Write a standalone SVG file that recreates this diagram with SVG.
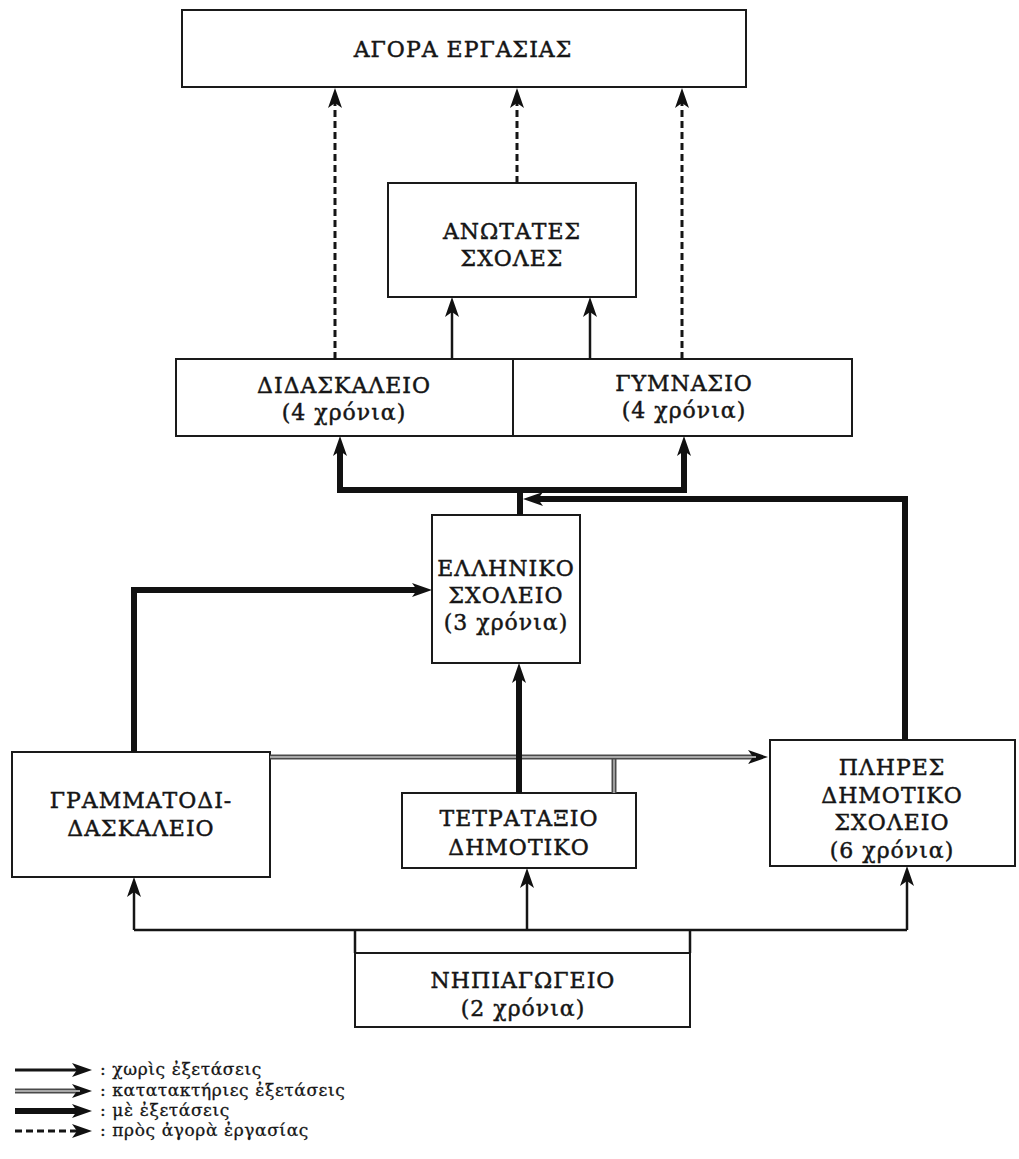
<svg xmlns="http://www.w3.org/2000/svg" width="1019" height="1159" viewBox="0 0 1019 1159">
<style>
.box{fill:#fff;stroke:#1a1a1a;stroke-width:2}
.t{font-family:"DejaVu Serif","Liberation Serif",serif;font-size:22px;letter-spacing:1px;fill:#151515;stroke:#151515;stroke-width:0.45;text-anchor:middle}
.lg{font-family:"DejaVu Serif","Liberation Serif",serif;font-size:17px;letter-spacing:0.6px;fill:#151515;stroke:#151515;stroke-width:0.3}
.thin{fill:none;stroke:#151515;stroke-width:2.5}
.thick{fill:none;stroke:#111;stroke-width:6}
.dash{fill:none;stroke:#151515;stroke-width:3;stroke-dasharray:7 4}
.hatch{fill:none;stroke:#4a4a4a;stroke-width:5}
.hatchin{fill:none;stroke:#a8a8a8;stroke-width:1.8}
</style>
<defs>
<marker id="ah" viewBox="0 0 20 14" refX="10" refY="7" markerWidth="20" markerHeight="14" markerUnits="userSpaceOnUse" orient="auto">
<path d="M0,0 L20,7 L0,14 L5,7 Z" fill="#111"/>
</marker>
</defs>
<rect width="1019" height="1159" fill="#fff"/>

<g id="agora">
<rect class="box" x="182" y="10" width="564" height="77"/>
<text class="t" x="463" y="57">ΑΓΟΡΑ ΕΡΓΑΣΙΑΣ</text>
</g>
<g id="anotates">
<rect class="box" x="388" y="183" width="248" height="114"/>
<text class="t" x="512" y="239">ΑΝΩΤΑΤΕΣ</text>
<text class="t" x="512" y="266">ΣΧΟΛΕΣ</text>
</g>
<g id="didaskaleio">
<rect class="box" x="176" y="359" width="337" height="77"/>
<text class="t" x="344" y="393">ΔΙΔΑΣΚΑΛΕΙΟ</text>
<text class="t" x="344" y="420">(4 χρόνια)</text>
</g>
<g id="gymnasio">
<rect class="box" x="513" y="359" width="339" height="77"/>
<text class="t" x="684" y="391">ΓΥΜΝΑΣΙΟ</text>
<text class="t" x="684" y="418">(4 χρόνια)</text>
</g>
<g id="elliniko">
<rect class="box" x="432" y="515" width="148" height="148"/>
<text class="t" x="506" y="576">ΕΛΛΗΝΙΚΟ</text>
<text class="t" x="506" y="603">ΣΧΟΛΕΙΟ</text>
<text class="t" x="506" y="630">(3 χρόνια)</text>
</g>
<g id="grammatodidaskaleio">
<rect class="box" x="12" y="752" width="258" height="125"/>
<text class="t" x="141" y="808">ΓΡΑΜΜΑΤΟΔΙ-</text>
<text class="t" x="141" y="836">ΔΑΣΚΑΛΕΙΟ</text>
</g>
<g id="tetrataxio">
<rect class="box" x="402" y="793" width="234" height="75"/>
<text class="t" x="519" y="826">ΤΕΤΡΑΤΑΞΙΟ</text>
<text class="t" x="519" y="855">ΔΗΜΟΤΙΚΟ</text>
</g>
<g id="plires">
<rect class="box" x="770" y="740" width="245" height="126"/>
<text class="t" x="892" y="775">ΠΛΗΡΕΣ</text>
<text class="t" x="892" y="803">ΔΗΜΟΤΙΚΟ</text>
<text class="t" x="892" y="830">ΣΧΟΛΕΙΟ</text>
<text class="t" x="892" y="858">(6 χρόνια)</text>
</g>
<g id="nipiagogeio">
<rect class="box" x="355" y="953" width="335" height="74"/>
<text class="t" x="523" y="988">ΝΗΠΙΑΓΩΓΕΙΟ</text>
<text class="t" x="523" y="1016">(2 χρόνια)</text>
</g>

<g id="connectors">
<path class="dash" d="M335,359 V98" marker-end="url(#ah)"/>
<path class="dash" d="M517,183 V98" marker-end="url(#ah)"/>
<path class="dash" d="M682,359 V98" marker-end="url(#ah)"/>
<path class="thin" d="M452,359 V307" marker-end="url(#ah)"/>
<path class="thin" d="M590,359 V307" marker-end="url(#ah)"/>
<path class="thick" d="M520,515 V490 H340 V446" marker-end="url(#ah)"/>
<path class="thick" d="M520,490 H684 V446" marker-end="url(#ah)"/>
<path class="thick" d="M905,740 V499 H533" marker-end="url(#ah)"/>
<path class="thick" d="M134,752 V590 H422" marker-end="url(#ah)"/>
<path class="hatch" d="M614,757 V793"/>
<path class="hatchin" d="M614,757 V793"/>
<path class="hatch" d="M270,757 H758" marker-end="url(#ah)"/>
<path class="hatchin" d="M270,757 H756"/>
<path class="thick" d="M519,793 V673" marker-end="url(#ah)"/>
<path class="thin" d="M134,930 H907"/>
<path class="thin" d="M134,930 V887" marker-end="url(#ah)"/>
<path class="thin" d="M527,930 V878" marker-end="url(#ah)"/>
<path class="thin" d="M907,930 V876" marker-end="url(#ah)"/>
<path class="thin" d="M355,930 V953 M690,930 V953"/>
</g>

<g id="legend">
<path class="thin" d="M15,1070 H82" style="stroke-width:3" marker-end="url(#ah)"/>
<text class="lg" x="100" y="1075">: χωρὶς ἐξετάσεις</text>
<path class="hatch" d="M15,1091 H82" marker-end="url(#ah)"/>
<path class="hatchin" d="M15,1091 H80"/>
<text class="lg" x="100" y="1096">: κατατακτήριες ἐξετάσεις</text>
<path class="thick" d="M15,1111 H82" marker-end="url(#ah)"/>
<text class="lg" x="100" y="1116">: μὲ ἐξετάσεις</text>
<path class="dash" d="M15,1131 H82" marker-end="url(#ah)"/>
<text class="lg" x="100" y="1136">: πρὸς ἀγορὰ ἐργασίας</text>
</g>
</svg>
